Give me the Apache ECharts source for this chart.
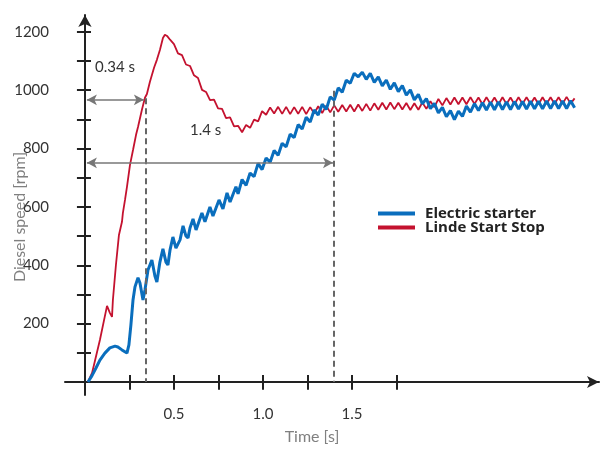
<!DOCTYPE html>
<html>
<head>
<meta charset="utf-8">
<script src="https://cdn.jsdelivr.net/npm/echarts@6/dist/echarts.min.js"></script>
<style>html,body{margin:0;padding:0;background:#fff}#c{width:602px;height:449px}</style>
</head>
<body>
<div id="c"></div>
<script>
const timeTicks = [0.25, 0.5, 0.75, 1.0, 1.25, 1.5, 1.75];
const timeLabels = [0.5, 1.0, 1.5];
const speedTicks = [100, 200, 300, 400, 500, 600, 700, 800, 900, 1000, 1100, 1200];
const speedLabels = [200, 400, 600, 800, 1000, 1200];
const seriesNames = ['Electric starter', 'Linde Start Stop'];
const startTimes = [0.34, 1.4];
const startLabels = ['0.34 s', '1.4 s'];

const electricStarter = [
[0.017,0],[0.039,21],[0.062,48],[0.084,75],[0.112,99],[0.14,117],[0.169,123],[0.185,120],[0.208,110],[0.236,99],
[0.247,127],[0.258,195],[0.27,281],[0.281,326],[0.298,357],[0.309,339],[0.326,281],[0.337,315],[0.354,384],[0.376,418],
[0.393,363],[0.404,343],[0.421,411],[0.438,456],[0.455,411],[0.466,401],[0.478,453],[0.494,497],[0.511,459],[0.522,453],
[0.534,487],[0.551,535],[0.567,501],[0.579,494],[0.59,528],[0.607,559],[0.624,521],[0.635,521],[0.657,579],[0.674,549],
[0.702,600],[0.719,569],[0.753,624],[0.775,593],[0.798,648],[0.815,617],[0.848,669],[0.86,645],
[0.8825,694],[0.905,674],[0.9275,716],[0.95,704],[0.9725,749],[0.995,728],[1.0175,768],[1.04,753],[1.0625,793],[1.085,777],
[1.1075,818],[1.13,806],[1.1525,849],[1.175,838],[1.1975,882],[1.22,867],[1.2425,907],[1.265,891],[1.2875,932],[1.31,915],
[1.3325,952],[1.355,934],[1.3775,977],[1.40,966],[1.4225,1008],[1.445,993],[1.4675,1034],[1.49,1024],[1.5125,1058],[1.535,1046],
[1.5575,1062],[1.58,1037],[1.6025,1058],[1.625,1027],[1.6475,1046],[1.67,1015],[1.6925,1035],[1.715,1003],[1.7375,1025],[1.76,995],
[1.7825,1016],[1.805,983],[1.8275,1001],[1.85,967],[1.8725,986],[1.895,953],[1.9175,971],[1.94,937],[1.9625,955],[1.985,922],
[2.0075,941],[2.03,909],[2.0525,930],[2.075,899],[2.0975,928],[2.12,910],[2.1425,946],[2.165,925],[2.1875,954],[2.21,930],
[2.2325,957],[2.255,932],[2.2775,959],[2.30,933],[2.3225,960],[2.345,934],[2.3675,960],[2.39,934],[2.4125,961],[2.435,935],
[2.4575,961],[2.48,935],[2.5025,962],[2.525,936],[2.5475,962],[2.57,936],[2.5925,963],[2.615,937],[2.6375,963],[2.66,937],
[2.6825,963],[2.705,937],[2.7275,964],[2.75,940]
];

const lindeStartStop = [
[0.017,0],[0.04,31],[0.084,144],[0.124,261],[0.14,237],[0.152,223],[0.157,281],[0.174,401],[0.191,504],[0.208,549],
[0.213,579],[0.225,624],[0.236,669],[0.253,744],[0.27,795],[0.287,847],[0.298,874],[0.32,933],[0.337,974],[0.348,987],
[0.365,1029],[0.388,1077],[0.404,1104],[0.421,1138],[0.438,1179],[0.449,1190],[0.461,1186],[0.478,1173],
[0.50,1158],[0.5225,1126],[0.545,1120],[0.5675,1088],[0.59,1083],[0.6125,1051],[0.635,1042],[0.6575,1001],[0.68,994],[0.7025,966],
[0.725,968],[0.7475,938],[0.77,936],[0.7925,904],[0.815,907],[0.8375,876],[0.86,878],[0.8825,856],[0.905,881],[0.9275,871],
[0.95,899],[0.9725,893],[0.995,928],[1.0175,916],[1.04,941],[1.0625,920],[1.085,943],[1.1075,919],[1.13,943],[1.1525,918],
[1.175,942],[1.1975,919],[1.22,943],[1.2425,918],[1.265,942],[1.2875,920],[1.31,945],[1.3325,922],[1.355,947],[1.3775,924],
[1.40,948],[1.4225,926],[1.445,949],[1.4675,927],[1.49,950],[1.5125,927],[1.535,951],[1.5575,929],[1.58,953],[1.6025,930],
[1.625,955],[1.6475,933],[1.67,957],[1.6925,934],[1.715,958],[1.7375,935],[1.76,957],[1.7825,934],[1.805,956],[1.8275,932],
[1.85,955],[1.8725,933],[1.895,958],[1.9175,936],[1.94,962],[1.9625,942],[1.985,970],[2.0075,948],[2.03,973],[2.0525,951],
[2.075,975],[2.0975,952],[2.12,975],[2.1425,952],[2.165,976],[2.1875,953],[2.21,975],[2.2325,952],[2.255,976],[2.2775,953],
[2.30,975],[2.3225,952],[2.345,976],[2.3675,953],[2.39,975],[2.4125,952],[2.435,976],[2.4575,953],[2.48,976],[2.5025,953],
[2.525,975],[2.5475,952],[2.57,976],[2.5925,953],[2.615,976],[2.6375,953],[2.66,976],[2.6825,953],[2.705,977],[2.7275,954],
[2.75,972]
];

const FONT = 'Lato, "Open Sans", sans-serif';
const AX = '#222';
const X_MIN = -0.112, X_MAX = 2.887, Y_MIN = -44.6, Y_MAX = 1257.7;

const chart = echarts.init(document.getElementById('c'), null, {renderer: 'canvas'});

const dashStyle = {color: '#666', width: 2, type: [6, 4]};
const arrowStyle = {color: '#777', width: 1.5, type: 'solid'};
const tickStyle = {color: AX, width: 2, type: 'solid'};

// crossing tick marks (they straddle the axis lines), placed in data coordinates
const crossTicks = [];
speedTicks.forEach(v => crossTicks.push([{coord: [-0.045, v], lineStyle: tickStyle}, {coord: [0.034, v]}]));
timeTicks.forEach(t => crossTicks.push([{coord: [t, -27], lineStyle: tickStyle}, {coord: [t, 24]}]));

chart.setOption({
  animation: false,
  backgroundColor: '#fff',
  grid: {left: 65, right: 3, top: 15, bottom: 54, containLabel: false},
  legend: {
    data: seriesNames,
    orient: 'vertical',
    left: 373, top: 201,
    itemWidth: 37, itemHeight: 4, itemGap: -1,
    icon: 'rect',
    textStyle: {fontFamily: '"Open Sans", sans-serif', fontSize: 15, fontWeight: 'bold', color: '#222', lineHeight: 15, padding: [0, 0, 0, 5]}
  },
  xAxis: {
    type: 'value', position: 'bottom', min: X_MIN, max: X_MAX,
    axisLine: {show: true, onZero: true, symbol: ['none', 'arrow'], symbolSize: [9, 12], lineStyle: {color: AX, width: 2}},
    axisTick: {show: false},
    axisLabel: {show: true, customValues: timeLabels, formatter: v => v.toFixed(1), margin: 12, fontSize: 15, fontFamily: FONT, color: '#333'},
    splitLine: {show: false}
  },
  yAxis: {
    type: 'value', position: 'left', min: Y_MIN, max: Y_MAX,
    axisLine: {show: true, onZero: true, symbol: ['none', 'arrow'], symbolSize: [10, 12], lineStyle: {color: AX, width: 2}},
    axisTick: {show: false},
    axisLabel: {show: true, customValues: speedLabels, formatter: v => String(v), margin: 16, fontSize: 15, fontFamily: FONT, color: '#333'},
    splitLine: {show: false}
  },
  series: [{
    name: seriesNames[1], type: 'line', data: lindeStartStop, showSymbol: false, symbol: 'none',
    lineStyle: {color: '#c4122f', width: 1.8}, itemStyle: {color: '#c4122f'}, z: 2,
    markLine: {
      silent: true, animation: false, label: {show: false}, symbol: ['none', 'none'],
      data: [
        [{coord: [startTimes[0], 972], lineStyle: dashStyle}, {coord: [startTimes[0], 0]}],
        [{coord: [startTimes[1], 998], lineStyle: dashStyle}, {coord: [startTimes[1], 0]}],
        [{coord: [0.011, 967], symbol: 'arrow', symbolSize: [8, 10], lineStyle: arrowStyle}, {coord: [0.331, 967], symbol: 'arrow', symbolSize: [8, 10]}],
        [{coord: [0.011, 751], symbol: 'arrow', symbolSize: [8, 10], lineStyle: arrowStyle}, {coord: [1.393, 751], symbol: 'arrow', symbolSize: [8, 10]}]
      ].concat(crossTicks)
    }
  }, {
    name: seriesNames[0], type: 'line', data: electricStarter, showSymbol: false, symbol: 'none',
    lineStyle: {color: '#0a6ebd', width: 3}, itemStyle: {color: '#0a6ebd'}, z: 3
  }],
  graphic: [
    {type: 'text', silent: true, style: {text: startLabels[0], x: 95, y: 67, fontSize: 15, fontFamily: FONT, fill: '#333', verticalAlign: 'middle'}},
    {type: 'text', silent: true, style: {text: startLabels[1], x: 190, y: 130, fontSize: 15, fontFamily: FONT, fill: '#333', verticalAlign: 'middle'}},
    {type: 'text', silent: true, style: {text: 'Time [s]', x: 312, y: 437, fontSize: 16, fontFamily: FONT, fill: '#808080', align: 'center', verticalAlign: 'middle'}},
    {type: 'text', silent: true, x: 20, y: 217, rotation: Math.PI / 2, style: {text: 'Diesel speed [rpm]', x: 0, y: 0, fontSize: 16, fontFamily: FONT, fill: '#808080', align: 'center', verticalAlign: 'middle'}}
  ]
});
</script>
</body>
</html>
